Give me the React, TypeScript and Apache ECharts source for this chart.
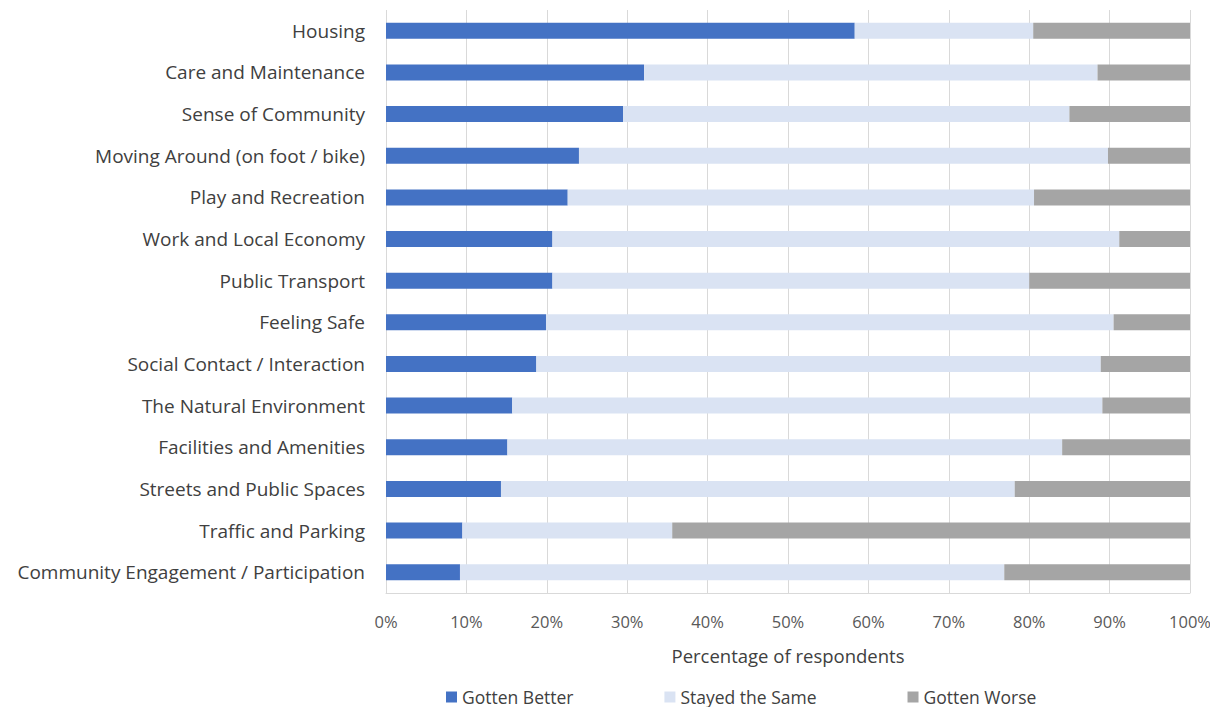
import React, { useEffect, useRef } from "react";
import * as echarts from "echarts";

const categories = [
  "Housing",
  "Care and Maintenance",
  "Sense of Community",
  "Moving Around (on foot / bike)",
  "Play and Recreation",
  "Work and Local Economy",
  "Public Transport",
  "Feeling Safe",
  "Social Contact / Interaction",
  "The Natural Environment",
  "Facilities and Amenities",
  "Streets and Public Spaces",
  "Traffic and Parking",
  "Community Engagement / Participation",
];

const gottenBetter = [58.3, 32.1, 29.5, 24.0, 22.6, 20.7, 20.7, 19.9, 18.7, 15.7, 15.1, 14.3, 9.5, 9.2];
const stayedSame = [22.2, 56.4, 55.5, 65.8, 58.0, 70.5, 59.3, 70.6, 70.2, 73.4, 69.0, 63.9, 26.1, 67.7];
const gottenWorse = [19.5, 11.5, 15.0, 10.2, 19.4, 8.8, 20.0, 9.5, 11.1, 10.9, 15.9, 21.8, 64.4, 23.1];

const xTicks = [0, 10, 20, 30, 40, 50, 60, 70, 80, 90, 100];

const FONT = "Open Sans";

export default function App() {
  const ref = useRef<HTMLDivElement>(null);
  useEffect(() => {
    if (!ref.current) return;
    const chart = echarts.init(ref.current, undefined, { renderer: "svg" });
    chart.setOption({
      animation: false,
      textStyle: { fontFamily: FONT },
      grid: { left: 386, right: 28, top: 10, bottom: 122, containLabel: false },
      legend: {
        top: 683,
        left: 441,
        itemWidth: 11,
        itemHeight: 11,
        itemGap: 91,
        icon: "rect",
        textStyle: { fontFamily: FONT, fontSize: 17.5, color: "#404040" },
        data: ["Gotten Better", "Stayed the Same", "Gotten Worse"],
      },
      xAxis: {
        type: "value",
        min: xTicks[0],
        max: xTicks[xTicks.length - 1],
        interval: 10,
        name: "Percentage of respondents",
        nameLocation: "middle",
        nameGap: 53,
        nameTextStyle: { fontFamily: FONT, fontSize: 18.5, color: "#404040" },
        axisLine: { show: true, lineStyle: { color: "#D9D9D9" } },
        axisTick: { show: false },
        axisLabel: {
          formatter: (v: number) => v + "%",
          fontFamily: FONT,
          fontSize: 16.5,
          color: "#595959",
          margin: 20,
        },
        splitLine: { show: true, lineStyle: { color: "#D9D9D9", width: 1 } },
      },
      yAxis: {
        type: "category",
        data: categories,
        inverse: true,
        axisLine: { show: false },
        axisTick: { show: false },
        axisLabel: { fontFamily: FONT, fontSize: 19, color: "#404040", margin: 21 },
      },
      series: [
        {
          name: "Gotten Better",
          type: "bar",
          stack: "total",
          barWidth: 16,
          itemStyle: { color: "#4472C4" },
          data: gottenBetter,
        },
        {
          name: "Stayed the Same",
          type: "bar",
          stack: "total",
          barWidth: 16,
          itemStyle: { color: "#DAE3F3" },
          data: stayedSame,
        },
        {
          name: "Gotten Worse",
          type: "bar",
          stack: "total",
          barWidth: 16,
          itemStyle: { color: "#A5A5A5" },
          data: gottenWorse,
        },
      ],
    });
    return () => chart.dispose();
  }, []);
  return <div ref={ref} style={{ width: 1218, height: 715, margin: -8 }} />;
}
